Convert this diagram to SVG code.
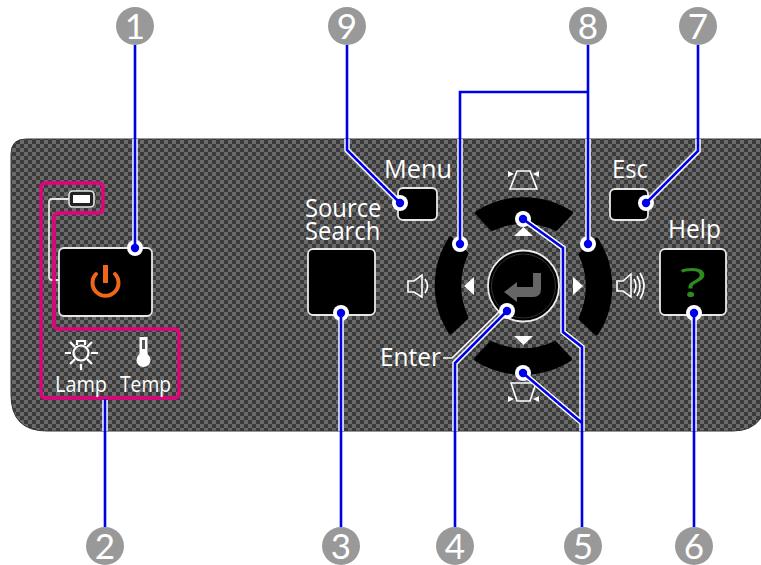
<svg xmlns="http://www.w3.org/2000/svg" xmlns:xlink="http://www.w3.org/1999/xlink" width="761" height="565" viewBox="0 0 761 565">
<style>
.lbl{font-family:"Open Sans","Noto Sans",sans-serif;font-weight:400;fill:#fff;font-size:26px}
.sm{font-size:21px}
.btn{fill:#000;stroke:#e8e8e8;stroke-width:1.8}
.ic{fill:none;stroke:#fff;stroke-width:1.6}
.ic2{fill:none;stroke:#fff;stroke-width:2.2}
.wf{fill:#fff}
.arc{fill:#000;stroke:#000;stroke-width:4;stroke-linejoin:round}
.halo{fill:none;stroke:#fff;stroke-width:5.5}
.blue{fill:none;stroke:#0000e6;stroke-width:2.6}
.dh{fill:#fff}.dc{fill:#0000e6}
.bg{fill:#999}
.num{font-family:"Lato","Open Sans",sans-serif;font-weight:400;fill:#fff;font-size:35px;text-anchor:middle}
</style>
<defs>
<pattern id="chk" width="8" height="8" patternUnits="userSpaceOnUse">
<rect width="8" height="8" fill="#3a3a3a"/>
<rect width="4" height="4" fill="#6a6a6a"/>
<rect x="4" y="4" width="4" height="4" fill="#6a6a6a"/>
</pattern>
<path id="seg" class="arc" d="M477 213A87 87 0 0 1 571 213L556 229A74 74 0 0 0 492 229Z"/>
<circle id="dot" r="8" class="dh"/>
</defs>
<rect width="761" height="565" fill="#fff"/>
<g id="panel">
<path d="M26 139H761V418Q752 431 733 431H47Q11 431 11 395V154Q11 139 26 139Z" fill="url(#chk)" stroke="#333" stroke-width="1"/>
<use xlink:href="#seg"/>
<use xlink:href="#seg" transform="rotate(90 523.5 286)"/>
<use xlink:href="#seg" transform="rotate(180 523.5 286)"/>
<use xlink:href="#seg" transform="rotate(270 523.5 286)"/>
</g>
<g id="indicators">
<path d="M70 199H52Q49 199 49 202V277Q49 280 52 280H59" fill="none" stroke="#e8e8e8" stroke-width="1.8"/>
<rect x="69" y="191" width="25" height="16" rx="4" fill="#222" stroke="#e8e8e8" stroke-width="1.6"/>
<rect x="73" y="195" width="17" height="8" class="wf"/>
<path d="M46 183H98Q103 183 103 188V208Q103 213 98 213H59Q54 213 54 218V324Q54 329 59 329H174Q179 329 179 334V393Q179 398 174 398H46Q41 398 41 393V188Q41 183 46 183Z" fill="none" stroke="#e6007e" stroke-width="3.4"/>
</g>
<g id="lamp">
<circle cx="81" cy="353" r="7.5" class="ic2"/>
<path d="M77 345V341H85V345M65 353H71M91 353H98M81 364V370M70 342L75 347M92 342L87 347M70 364L75 359M92 364L87 359" class="ic2"/>
<text x="55" y="391.5" textLength="52" lengthAdjust="spacingAndGlyphs" class="lbl sm">Lamp</text>
</g>
<g id="temp">
<rect x="139.5" y="337" width="8" height="20" class="wf"/>
<rect x="142" y="340" width="3" height="9" fill="#555"/>
<circle cx="143.5" cy="360" r="7" class="wf"/>
<text x="120" y="391.5" textLength="51" lengthAdjust="spacingAndGlyphs" class="lbl sm">Temp</text>
</g>
<g id="power">
<rect x="59" y="248" width="93" height="68" rx="5" class="btn"/>
<path d="M96 274A13 13 0 1 0 115 274" fill="none" stroke="#f0661a" stroke-width="4" stroke-linecap="round"/>
<rect x="103" y="265" width="5" height="18" fill="#f0661a"/>
</g>
<g id="source">
<rect x="308" y="249" width="67" height="66" rx="5" class="btn"/>
<text transform="translate(305 217) scale(.915 1)" class="lbl">Source<tspan x="0" dy="23">Search</tspan></text>
</g>
<g id="menu">
<rect x="398" y="188" width="39" height="32" rx="5" class="btn"/>
<text x="384" y="178" textLength="68" lengthAdjust="spacingAndGlyphs" class="lbl">Menu</text>
</g>
<g id="esc">
<rect x="610" y="189" width="38" height="31" rx="5" class="btn"/>
<text x="612" y="178" textLength="36" lengthAdjust="spacingAndGlyphs" class="lbl">Esc</text>
</g>
<g id="help">
<rect x="660" y="249" width="66" height="66" rx="5" class="btn"/>
<text x="668" y="238" textLength="53" lengthAdjust="spacingAndGlyphs" class="lbl">Help</text>
<text x="680" y="297" textLength="26" lengthAdjust="spacingAndGlyphs" font-family="Open Sans,sans-serif" font-weight="500" font-size="40" fill="#2e8b1e">?</text>
</g>
<g id="enter">
<circle cx="523.5" cy="286" r="35.5" fill="#000" stroke="#eee" stroke-width="1.8"/>
<circle cx="523.5" cy="286" r="32" fill="none" stroke="#333" stroke-width="1"/>
<path d="M504 292L517 282V287H533V273H541V289Q541 297 533 297H517V302Z" fill="#666"/>
<text x="380" y="366" textLength="61" lengthAdjust="spacingAndGlyphs" class="lbl">Enter</text>
<path d="M443 358H452L500 311" fill="none" stroke="#fff" stroke-width="1.5"/>
</g>
<g id="cursor-icons">
<path d="M514 236H533L523.5 227ZM514 336H533L523.5 345ZM474 277V295L464 286ZM573 277V295L583 286Z" class="wf"/>
<path d="M517 171H530L537 189H510Z" class="ic"/>
<path d="M508 171L514 174L508 177ZM539 171L533 174L539 177Z" class="wf"/>
<path d="M511 383H536L530 401H517Z" class="ic"/>
<path d="M508 396L514 399L508 402ZM539 396L533 399L539 402Z" class="wf"/>
<path d="M408 281H414L422 275V297L414 292H408Z" class="ic"/>
<path d="M425 279Q430 286 425 293" class="ic"/>
<path d="M617 281H623L631 274V297L623 291H617Z" class="ic"/>
<path d="M634 279Q638 286 634 293M637 276Q643 286 637 296M640 273Q648 286 640 299" class="ic"/>
</g>
<g id="connectors">
<path class="halo" d="M135 139V248M105 400V431M347 139V150L400 203M460 139V244M588 139V244M523 219L563 248V332L582 347V431M523 373L582 423M507 311L455 363V431M341 315V431M694 315V431M698 139V151L646 203"/>
<use xlink:href="#dot" x="135" y="248"/><use xlink:href="#dot" x="400" y="203"/><use xlink:href="#dot" x="460" y="244"/><use xlink:href="#dot" x="588" y="244"/><use xlink:href="#dot" x="523" y="219"/><use xlink:href="#dot" x="523" y="373"/><use xlink:href="#dot" x="507" y="311"/><use xlink:href="#dot" x="341" y="313"/><use xlink:href="#dot" x="694" y="313"/><use xlink:href="#dot" x="646" y="203"/>
<path class="blue" d="M135 45V248M105 399V527M347 45V150L400 203M588 45V244M588 92H460V244M523 219L563 248V332L582 347V527M523 373L582 423M507 311L455 363V527M341 313V527M694 313V527M698 45V151L646 203"/>
<g class="dc"><circle cx="135" cy="248" r="4.2"/><circle cx="400" cy="203" r="4.2"/><circle cx="460" cy="244" r="4.2"/><circle cx="588" cy="244" r="4.2"/><circle cx="523" cy="219" r="4.2"/><circle cx="523" cy="373" r="4.2"/><circle cx="507" cy="311" r="4.2"/><circle cx="341" cy="313" r="4.2"/><circle cx="694" cy="313" r="4.2"/><circle cx="646" cy="203" r="4.2"/></g>
</g>
<g id="n1"><circle cx="135" cy="26" r="19" class="bg"/><text x="135" y="38.5" class="num">1</text></g>
<g id="n9"><circle cx="347" cy="26" r="19" class="bg"/><text x="347" y="38.5" class="num">9</text></g>
<g id="n8"><circle cx="588" cy="26" r="19" class="bg"/><text x="588" y="38.5" class="num">8</text></g>
<g id="n7"><circle cx="698" cy="26" r="19" class="bg"/><text x="698" y="38.5" class="num">7</text></g>
<g id="n2"><circle cx="105" cy="546" r="19" class="bg"/><text x="105" y="558.5" class="num">2</text></g>
<g id="n3"><circle cx="341" cy="546" r="19" class="bg"/><text x="341" y="558.5" class="num">3</text></g>
<g id="n4"><circle cx="455" cy="546" r="19" class="bg"/><text x="455" y="558.5" class="num">4</text></g>
<g id="n5"><circle cx="583" cy="546" r="19" class="bg"/><text x="583" y="558.5" class="num">5</text></g>
<g id="n6"><circle cx="694" cy="546" r="19" class="bg"/><text x="694" y="558.5" class="num">6</text></g>
</svg>
